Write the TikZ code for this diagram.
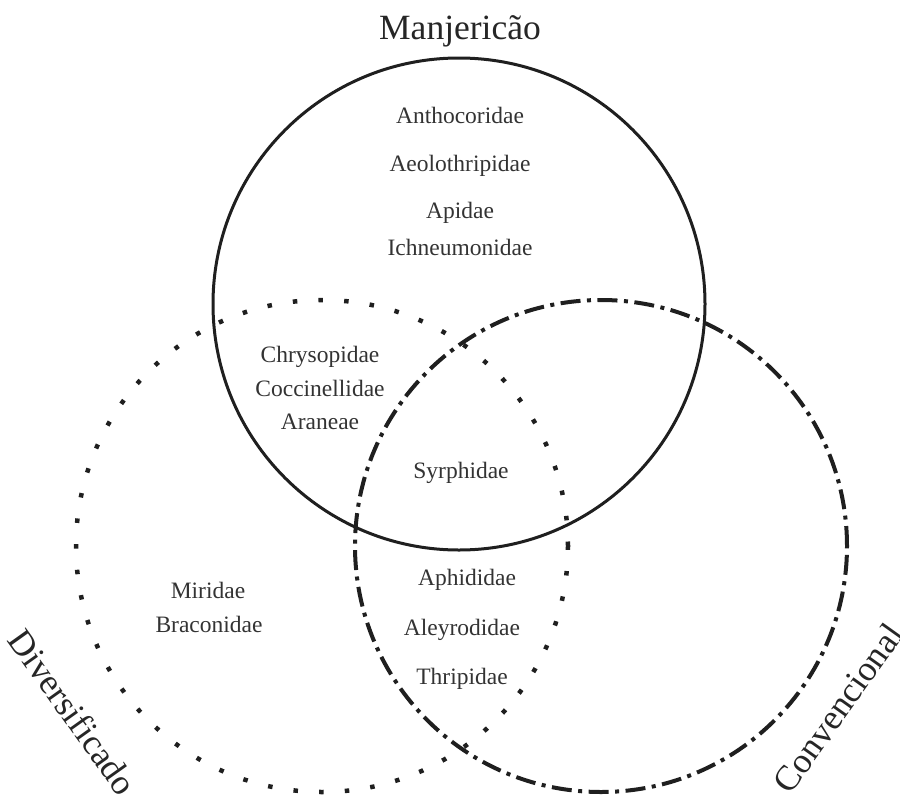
\documentclass[tikz,border=0pt]{standalone}
\usepackage{fontspec}
\setmainfont{Liberation Serif}
\begin{document}
\begin{tikzpicture}[x=1pt,y=-1pt,
  set/.style={circle,inner sep=0pt,minimum size=492pt},
  solidset/.style={set,draw=black!88,line width=3pt},
  dotset/.style={set,draw=black!88,line width=4.5pt,line cap=butt,dash pattern=on 4.5pt off 21.2pt},
  dashdotset/.style={set,draw=black!88,line width=4pt,line cap=butt,dash pattern=on 20pt off 6.5pt on 4pt off 6.5pt},
  lab/.style={font=\fontsize{23.5}{26}\selectfont,text=black!80,inner sep=0pt,anchor=base},
  title/.style={font=\fontsize{35.5}{40}\selectfont,text=black!85,inner sep=0pt}]
\useasboundingbox (0,0) rectangle (900,798);
\node[dotset] (div) at (322,546) {};
\node[dashdotset] (conv) at (601,546) {};
\node[solidset] (manj) at (459,304) {};
\node[title,anchor=base] (tmanj) at (460,39) {Manjericão};
\node[title,rotate=-54.5] (tdiv) at (73,712) {Diversificado};
\node[title,rotate=54.5] (tconv) at (838,708) {Convencional};
\node[lab] (a1) at (460,123) {Anthocoridae};
\node[lab] (a2) at (460,171) {Aeolothripidae};
\node[lab] (a3) at (460,218) {Apidae};
\node[lab] (a4) at (460,255) {Ichneumonidae};
\node[lab] (b1) at (320,362) {Chrysopidae};
\node[lab] (b2) at (320,396) {Coccinellidae};
\node[lab] (b3) at (320,429) {Araneae};
\node[lab] (c1) at (461,478) {Syrphidae};
\node[lab] (d1) at (208,598) {Miridae};
\node[lab] (d2) at (209,632) {Braconidae};
\node[lab] (e1) at (467,585) {Aphididae};
\node[lab] (e2) at (462,635) {Aleyrodidae};
\node[lab] (e3) at (462,684) {Thripidae};
\end{tikzpicture}
\end{document}
